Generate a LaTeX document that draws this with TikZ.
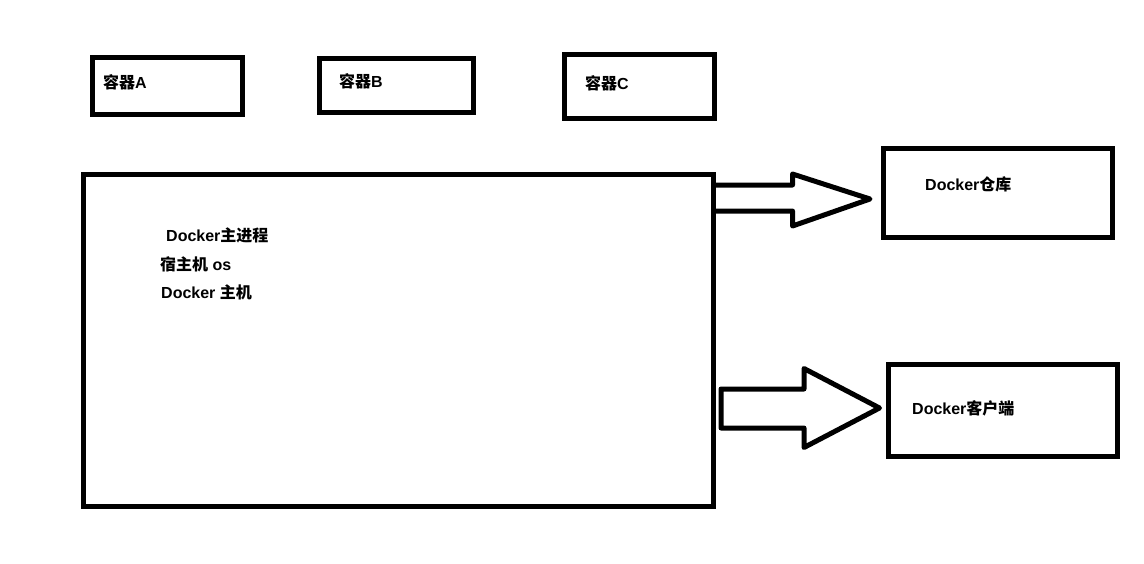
\documentclass[tikz,border=0pt]{standalone}
\usepackage{fontspec}
\setmainfont{Liberation Sans}
\newfontfamily\cjk{Noto Sans CJK SC}
\newcommand{\zh}[1]{{\cjk #1}}
\begin{document}
\begin{tikzpicture}[x=1pt,y=-1pt,
  box/.style={draw=black, line width=5pt, fill=none, inner sep=0pt, outer sep=0pt},
  lbl/.style={anchor=base west, inner sep=0pt, font=\fontsize{16pt}{18pt}\selectfont\bfseries},
  blockarrow/.style={draw=black, line width=5pt, line join=round}]
\useasboundingbox (0,0) rectangle (1144,563);
\fill[white] (0,0) rectangle (1144,563);
% boxes (centre-line geometry)
\node[box, minimum width=150pt, minimum height=57pt] (A) at (167.5,86) {};
\node[box, minimum width=154.5pt, minimum height=54pt] (B) at (396.25,85) {};
\node[box, minimum width=150.5pt, minimum height=64pt] (C) at (639.25,86.5) {};
\node[box, minimum width=630pt, minimum height=332pt] (main) at (398.5,340.5) {};
\node[box, minimum width=229pt, minimum height=89.5pt] (repo) at (997.5,192.75) {};
\node[box, minimum width=229pt, minimum height=92.5pt] (client) at (1002.5,410.25) {};
% labels
\node[lbl] (tA) at (103,88.5) {\zh{容器}A};
\node[lbl] (tB) at (339,87) {\zh{容器}B};
\node[lbl] (tC) at (585,89) {\zh{容器}C};
\node[lbl] (trepo) at (925,190.5) {Docker\zh{仓库}};
\node[lbl] (tclient) at (912,414) {Docker\zh{客户端}};
\node[lbl] (t1) at (166,241.5) {Docker\zh{主进程}};
\node[lbl] (t2) at (160,270) {\zh{宿主机} os};
\node[lbl] (t3) at (161,298.5) {Docker \zh{主机}};
% block arrows
\coordinate (a1s) at (main.east |- 0,185);
\coordinate (a1e) at (main.east |- 0,211);
\draw[blockarrow] (a1s) -- (792.5,185) -- (792.5,174) -- (870,199) -- (792.5,226) -- (792.5,211) -- (a1e);
\coordinate (a2s) at (721,389);
\draw[blockarrow] (a2s) -- (804,389) -- (804,368.5) -- (879.5,408) -- (804,447.5) -- (804,428) -- (721,428) -- cycle;
\end{tikzpicture}
\end{document}
